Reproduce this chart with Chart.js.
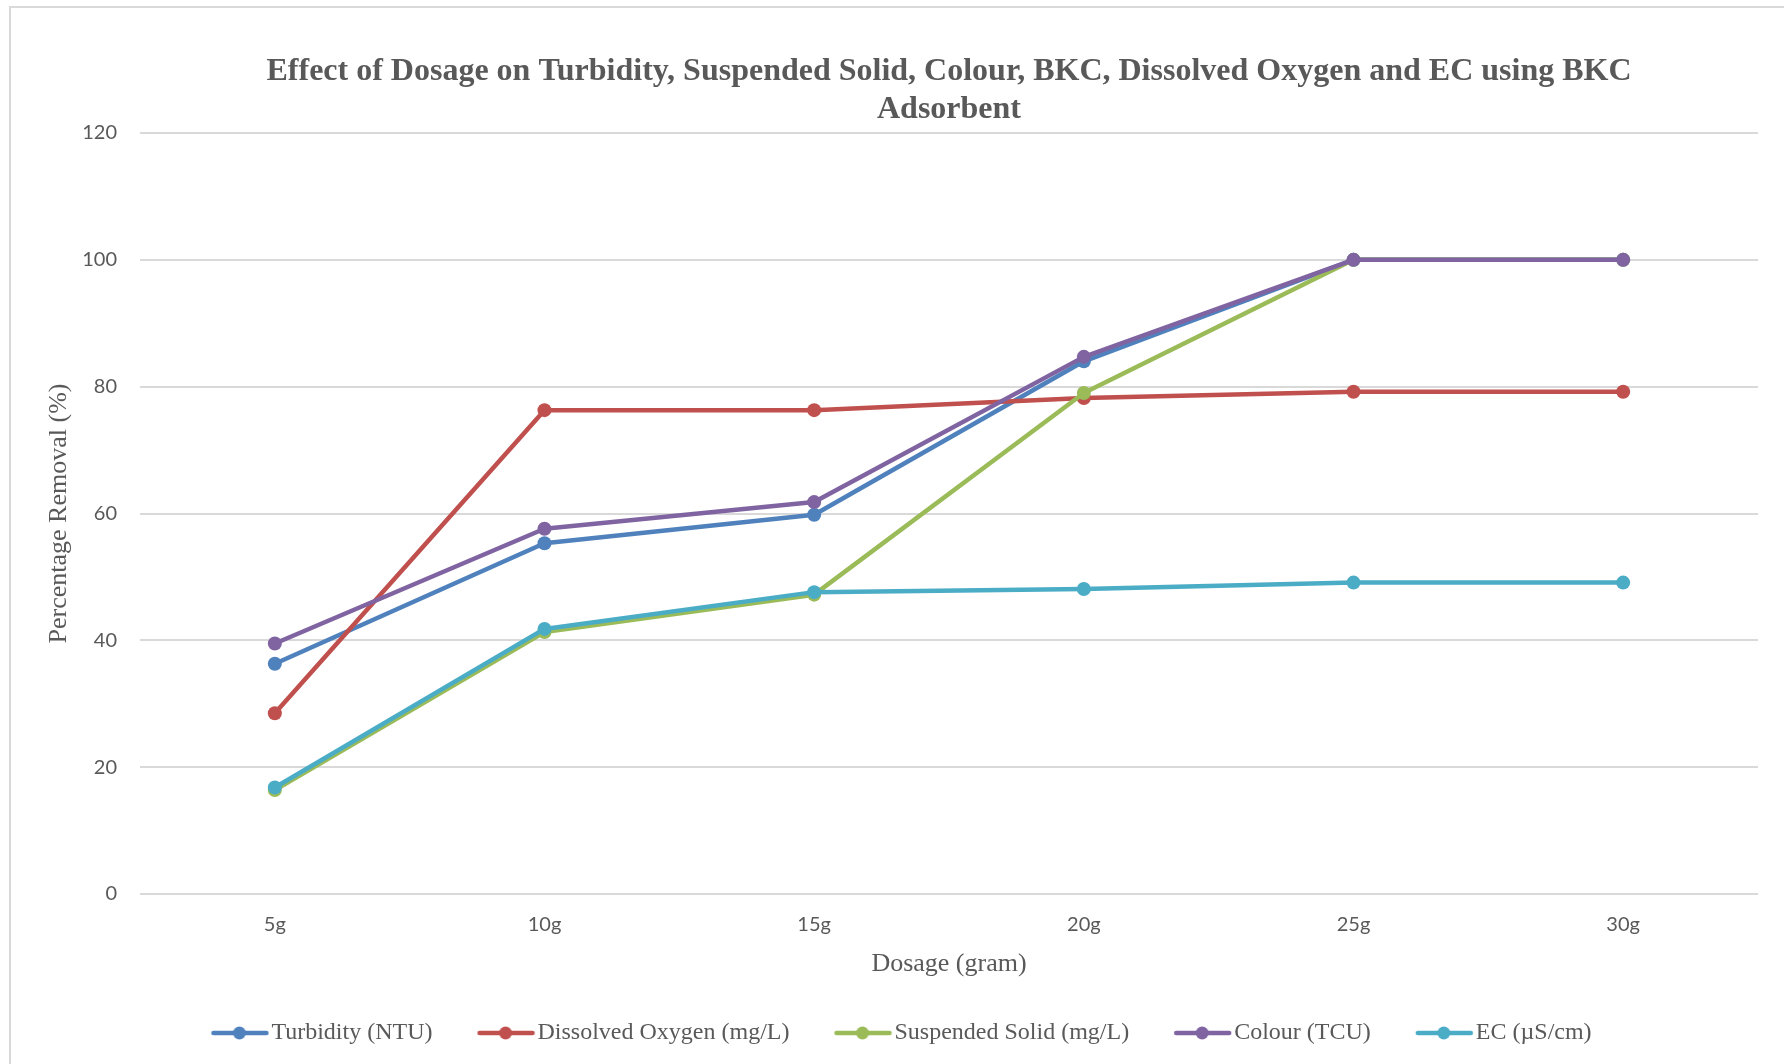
<!DOCTYPE html>
<html>
<head>
<meta charset="utf-8">
<script src="https://cdn.jsdelivr.net/npm/chart.js@4.4.1/dist/chart.umd.min.js"></script>
<style>
  html, body { margin: 0; padding: 0; background: #ffffff; overflow: hidden; }
  #frame {
    position: absolute; left: 9px; top: 6px; width: 1800px; height: 1100px;
    border-top: 2px solid #d9d9d9; border-left: 2px solid #d9d9d9;
  }
  #wrap { position: absolute; left: 0; top: 0; width: 1784px; height: 1064px; }
</style>
</head>
<body>
<div id="frame"></div>
<div id="wrap"><canvas id="chart" width="1784" height="1064"></canvas></div>
<script>
// Dosage levels on the x axis
const dosage = ['5g', '10g', '15g', '20g', '25g', '30g'];

// Percentage removal for each parameter
const turbidity       = [36.3, 55.3, 59.8, 84.0, 100, 100];
const dissolvedOxygen = [28.5, 76.3, 76.3, 78.2, 79.2, 79.2];
const suspendedSolid  = [16.4, 41.3, 47.2, 79.0, 100, 100];
const colour          = [39.5, 57.6, 61.8, 84.7, 100, 100];
const ec              = [16.8, 41.8, 47.6, 48.1, 49.1, 49.1];

const seriesNames = ['Turbidity (NTU)', 'Dissolved Oxygen (mg/L)', 'Suspended Solid (mg/L)', 'Colour (TCU)', 'EC (\u00b5S/cm)'];
const seriesValues = [turbidity, dissolvedOxygen, suspendedSolid, colour, ec];
const seriesColors = ['#4f81bd', '#c0504d', '#9bbb59', '#8064a2', '#4bacc6'];

// Y axis range
const yMin = 0, yMax = 120, yStep = 20;

const TEXT = '#595959';
const SERIF = '"Liberation Serif", "Times New Roman", serif';
const SANS = 'Lato, "Open Sans", sans-serif';

// Legend swatch: short line with a round marker, placed right next to its label
function legendSwatch(color) {
  const c = document.createElement('canvas');
  c.width = 152; c.height = 20;
  const g = c.getContext('2d');
  g.strokeStyle = color; g.lineWidth = 4.5; g.lineCap = 'round';
  g.beginPath(); g.moveTo(66, 10); g.lineTo(119, 10); g.stroke();
  g.fillStyle = color;
  g.beginPath(); g.arc(92, 10, 6.5, 0, Math.PI * 2); g.fill();
  return c;
}

const datasets = seriesNames.map((name, i) => ({
  label: name,
  data: seriesValues[i],
  borderColor: seriesColors[i],
  backgroundColor: seriesColors[i],
  borderWidth: 4.5,
  pointRadius: 7,
  pointHoverRadius: 7,
  pointBorderWidth: 0,
  pointStyle: 'circle',
  borderJoinStyle: 'round',
  borderCapStyle: 'round',
  tension: 0,
  fill: false,
  order: seriesNames.length - i,
  swatch: legendSwatch(seriesColors[i])
}));

new Chart(document.getElementById('chart'), {
  type: 'line',
  data: { labels: dosage, datasets },
  options: {
    responsive: false,
    animation: false,
    events: [],
    layout: { padding: { left: 0, right: 5, top: 0, bottom: 9 } },
    plugins: {
      tooltip: { enabled: false },
      title: {
        display: true,
        fullSize: false,
        text: ['Effect of Dosage on Turbidity, Suspended Solid, Colour, BKC, Dissolved Oxygen and EC using BKC', 'Adsorbent'],
        color: TEXT,
        font: { family: SERIF, size: 32, weight: 'bold', lineHeight: '38px' },
        padding: { top: 53, bottom: 4 }
      },
      legend: {
        position: 'bottom',
        sort: (a, b) => a.datasetIndex - b.datasetIndex,
        labels: {
          color: TEXT,
          font: { family: SERIF, size: 24 },
          usePointStyle: true,
          pointStyleWidth: 72,
          padding: 21,
          generateLabels(chart) {
            return chart.data.datasets.map((ds, i) => ({
              text: ds.label,
              datasetIndex: i,
              fillStyle: ds.borderColor,
              strokeStyle: ds.borderColor,
              fontColor: TEXT,
              lineWidth: 0,
              hidden: false,
              pointStyle: ds.swatch
            }));
          }
        }
      }
    },
    scales: {
      x: {
        offset: true,
        grid: { display: false, drawTicks: false },
        border: { display: false },
        ticks: { color: TEXT, font: { family: SANS, size: 20 }, padding: 19 },
        title: {
          display: true,
          text: 'Dosage (gram)',
          color: TEXT,
          font: { family: SERIF, size: 26, lineHeight: 1.2 },
          padding: { top: 0, bottom: 20 }
        },
        afterFit(scale) { scale.height = 106; }
      },
      y: {
        min: yMin,
        max: yMax,
        grid: { color: '#d9d9d9', lineWidth: 2, drawTicks: false },
        border: { display: false },
        ticks: { stepSize: yStep, color: TEXT, font: { family: SANS, size: 20 }, padding: 23 },
        title: {
          display: true,
          text: 'Percentage Removal (%)',
          color: TEXT,
          font: { family: SERIF, size: 26, lineHeight: 1.2 },
          padding: { top: 44, bottom: 0 }
        },
        afterFit(scale) { scale.width = 140; }
      },
      // blank margin on the right of the plot
      yRight: {
        position: 'right',
        min: yMin,
        max: yMax,
        grid: { display: false, drawTicks: false },
        border: { display: false },
        ticks: { display: false },
        afterFit(scale) { scale.width = 21; }
      }
    }
  }
});
</script>
</body>
</html>
